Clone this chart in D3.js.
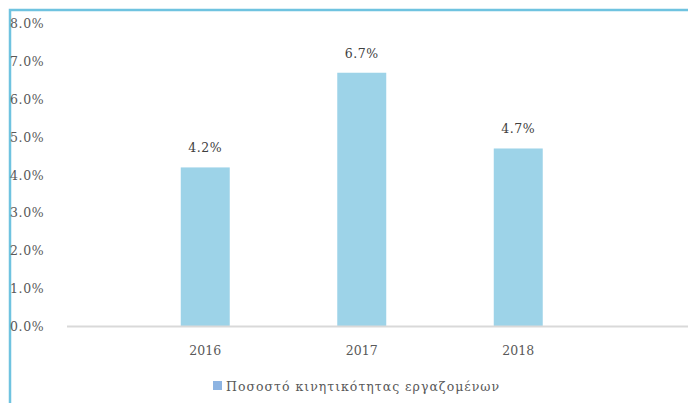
<!DOCTYPE html>
<html>
<head>
<meta charset="utf-8">
<script src="https://cdn.jsdelivr.net/npm/d3@7"></script>
<style>
  html, body { margin: 0; padding: 0; background: #fff; }
  svg { display: block; }
  svg text { font-family: "DejaVu Serif", serif; font-size: 12.5px; }
</style>
</head>
<body>
<svg id="chart" width="688" height="403"></svg>
<script>
// Employee mobility rate by year
const years = ["2016", "2017", "2018"];
const rates = [4.2, 6.7, 4.7];
const yTicks = [0, 1, 2, 3, 4, 5, 6, 7, 8];
const seriesName = "Ποσοστό κινητικότητας εργαζομένων";

const svg = d3.select("#chart");
const W = 688, H = 403;

const x = d3.scaleBand()
  .domain(years)
  .range([127, 596.5])
  .paddingInner(0.687)
  .paddingOuter(0.3435);

const y = d3.scaleLinear().domain([0, 8]).range([326.5, 23.5]);

// frame along the top and left edges
svg.append("path")
  .attr("d", `M10,${H} L10,10 L${W},10`)
  .attr("fill", "none")
  .attr("stroke", "#6FC3E0")
  .attr("stroke-width", 2.5);

// y axis labels
const yAxis = d3.axisLeft(y)
  .tickValues(yTicks)
  .tickFormat(d => d.toFixed(1) + "%")
  .tickSize(0)
  .tickPadding(0);
const gy = svg.append("g").attr("transform", "translate(10,0)").call(yAxis);
gy.attr("font-family", null).attr("font-size", null);
gy.select(".domain").remove();
gy.selectAll("text")
  .attr("text-anchor", "start")
  .attr("x", 0)
  .attr("fill", "#595959")
  .style("letter-spacing", "0.6px");

// bars
svg.append("g").selectAll("rect")
  .data(years)
  .join("rect")
  .attr("x", d => x(d))
  .attr("width", x.bandwidth())
  .attr("y", (d, i) => y(rates[i]))
  .attr("height", (d, i) => y(0) - y(rates[i]))
  .attr("fill", "#9DD3E8");

// baseline
svg.append("line")
  .attr("x1", 67).attr("x2", W)
  .attr("y1", y(0)).attr("y2", y(0))
  .attr("stroke", "#D9D9D9")
  .attr("stroke-width", 2);

// x axis labels
const xAxis = d3.axisBottom(x).tickSize(0).tickPadding(0);
const gx = svg.append("g").attr("transform", `translate(0,${y(0) + 28})`).call(xAxis);
gx.attr("font-family", null).attr("font-size", null);
gx.select(".domain").remove();
gx.selectAll("text")
  .attr("dy", 0)
  .attr("fill", "#595959");

// value labels
svg.append("g").selectAll("text")
  .data(years)
  .join("text")
  .attr("x", d => x(d) + x.bandwidth() / 2)
  .attr("y", (d, i) => y(rates[i]) - 15)
  .attr("text-anchor", "middle")
  .attr("fill", "#404040")
  .style("letter-spacing", "0.6px")
  .text((d, i) => rates[i].toFixed(1) + "%");

// legend
const lg = svg.append("g").attr("transform", "translate(213,381)");
lg.append("rect").attr("width", 9).attr("height", 9).attr("fill", "#8DB4E2");
lg.append("text")
  .attr("x", 13).attr("y", 10)
  .attr("fill", "#595959")
  .style("letter-spacing", "1px")
  .text(seriesName);
</script>
</body>
</html>
